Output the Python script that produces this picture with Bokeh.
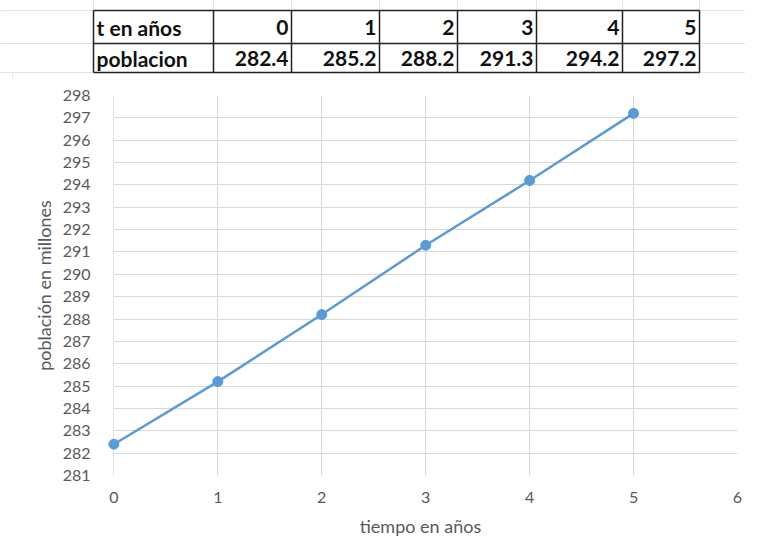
from bokeh.plotting import figure
from bokeh.layouts import column, row
from bokeh.models import Range1d, FixedTicker, ColumnDataSource, BoxAnnotation
from bokeh.core.properties import value
from bokeh.embed import file_html
from bokeh.resources import INLINE

# ---- data ----
years = [0, 1, 2, 3, 4, 5]
population = [282.4, 285.2, 288.2, 291.3, 294.2, 297.2]
row_labels = ["t en años", "poblacion"]
x_ticks = [0, 1, 2, 3, 4, 5, 6]
y_ticks = list(range(281, 299))

FONT = "Lato"
BLUE = "#5b9bd5"
GRID = "#d9d9d9"
TXT = "#595959"

W = 745
TH = 78

# ---- table figure (coordinates in picture pixels) ----
t = figure(width=W, height=TH, x_range=Range1d(0, W), y_range=Range1d(TH, 0),
           output_backend="svg", toolbar_location=None, min_border=0)
t.axis.visible = False
t.grid.visible = False
t.outline_line_color = None

col_edges = [93, 213, 291, 379, 457, 536, 622, 699]
row_edges = [10, 43, 72]

# faint spreadsheet grid
t.segment(x0=[0, 699, 0, 699, 0, 699], y0=[10, 10, 43, 43, 72, 72],
          x1=[93, W, 93, W, 93, W], y1=[10, 10, 43, 43, 72, 72],
          line_color="#e3e3e3", line_width=1)
t.segment(x0=col_edges, y0=[0] * 8, x1=col_edges, y1=[10] * 8,
          line_color="#e3e3e3", line_width=1)
t.segment(x0=[699, 12], y0=[72, 72], x1=[699, 12], y1=[TH, TH],
          line_color="#e3e3e3", line_width=1)

# table borders
t.segment(x0=[col_edges[0]] * 3, y0=row_edges, x1=[col_edges[-1]] * 3, y1=row_edges,
          line_color="#222222", line_width=1.5)
t.segment(x0=col_edges, y0=[row_edges[0]] * 8, x1=col_edges, y1=[row_edges[-1]] * 8,
          line_color="#222222", line_width=1.5)

ty = [27, 58]
FS = "21px"
t.text(x=[col_edges[0] + 3] * 2, y=ty, text=row_labels,
       text_font=value(FONT), text_font_style="bold", text_font_size=FS,
       text_color="#111111", text_align="left", text_baseline="middle")
xs = [e - 3 for e in col_edges[2:]]
t.text(x=xs, y=[ty[0]] * 6, text=[str(v) for v in years],
       text_font=value(FONT), text_font_style="bold", text_font_size=FS,
       text_color="#111111", text_align="right", text_baseline="middle")
t.text(x=xs, y=[ty[1]] * 6, text=[f"{v:.1f}" for v in population],
       text_font=value(FONT), text_font_style="bold", text_font_size=FS,
       text_color="#111111", text_align="right", text_baseline="middle")

# ---- chart figure ----
XPAD = 0.1
p = figure(width=W, height=540 - TH, x_range=Range1d(x_ticks[0] - XPAD, x_ticks[-1]),
           y_range=Range1d(y_ticks[0], y_ticks[-1]),
           output_backend="svg", toolbar_location=None,
           min_border_left=103, min_border_right=8, min_border_top=17, min_border_bottom=65)
p.outline_line_color = None

# white mask so that gridlines start at x = 0 (as in the spreadsheet chart)
mask = BoxAnnotation(left=x_ticks[0] - XPAD, right=x_ticks[0] - 0.006,
                     fill_color="white", fill_alpha=1.0, line_color=None, level="underlay")
p.add_layout(mask)

src = ColumnDataSource(dict(x=years, y=population))
p.line("x", "y", source=src, line_color=BLUE, line_width=2.5)
p.scatter("x", "y", source=src, size=10, fill_color=BLUE, line_color=BLUE)

p.xaxis.ticker = FixedTicker(ticks=x_ticks)
p.yaxis.ticker = FixedTicker(ticks=y_ticks)
for ax in (p.xaxis, p.yaxis):
    ax.major_tick_line_color = None
    ax.minor_tick_line_color = None
    ax.major_label_text_font = FONT
    ax.major_label_text_font_size = "16px"
    ax.major_label_text_color = TXT
    ax.axis_label_text_font = FONT
    ax.axis_label_text_font_size = "18px"
    ax.axis_label_text_font_style = "normal"
    ax.axis_label_text_color = TXT
p.yaxis.axis_line_color = None
p.xaxis.axis_line_color = None
p.xaxis.major_label_standoff = 10
p.yaxis.major_label_standoff = 7
p.xaxis.axis_label = "tiempo en años"
p.yaxis.axis_label = "población en millones"
p.xaxis.axis_label_standoff = 9
p.yaxis.axis_label_standoff = 5
p.xgrid.grid_line_color = GRID
p.ygrid.grid_line_color = GRID
p.xgrid.ticker = FixedTicker(ticks=x_ticks)
p.ygrid.ticker = FixedTicker(ticks=y_ticks)

layout = column(row(t), row(p))
open("out.html", "w").write(file_html(layout, INLINE))
